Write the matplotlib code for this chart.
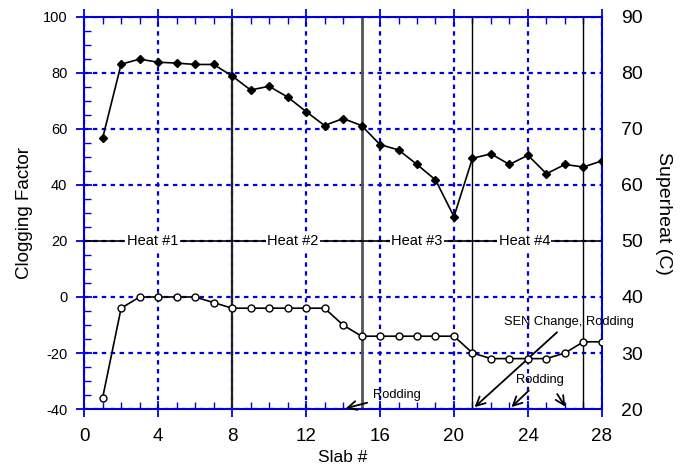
import matplotlib.pyplot as plt
from matplotlib.ticker import MultipleLocator

plt.rcParams['font.family'] = ['Liberation Sans', 'DejaVu Sans']
plt.rcParams['axes.unicode_minus'] = False

slab = list(range(1, 29))
clogging = [56.7, 83.1, 84.9, 83.8, 83.5, 83.0, 83.0, 78.9, 73.9, 75.2,
            71.4, 66.2, 61.2, 63.7, 61.2, 54.4, 52.5, 47.3, 41.8, 28.7,
            49.5, 51.1, 47.3, 50.6, 44.0, 47.3, 46.4, 48.6]
superheat = [22, 38, 40, 40, 40, 40, 39, 38, 38, 38,
             38, 38, 38, 35, 33, 33, 33, 33, 33, 33,
             30, 29, 29, 29, 29, 30, 32, 32]

heat_breaks = [8, 15, 21, 27]
heat_labels = ["Heat #1", "Heat #2", "Heat #3", "Heat #4"]
heat_label_x = [3.7, 11.3, 18.0, 23.8]

blue = "#0000dd"

fig = plt.figure(figsize=(6.84, 4.68), dpi=100)
ax = fig.add_axes([0.123, 0.126, 0.757, 0.838])

ax.set_xlim(0, 28)
ax.set_ylim(-40, 100)
ax.xaxis.set_major_locator(MultipleLocator(4))
ax.xaxis.set_minor_locator(MultipleLocator(1))
ax.yaxis.set_major_locator(MultipleLocator(20))
ax.yaxis.set_minor_locator(MultipleLocator(5))
ax.grid(True, which='major', color=blue, linestyle=(0, (2, 2)), linewidth=1.6)

for s in ax.spines.values():
    s.set_color(blue)
    s.set_linewidth(1.5)
ax.tick_params(which='major', direction='inout', length=12, width=1.3, color=blue,
               top=True, right=False)
ax.tick_params(which='minor', direction='in', length=5, width=1, color=blue,
               top=True, right=False)
ax.tick_params(axis='x', labelsize=13.5, pad=8)
ax.tick_params(axis='y', labelsize=10.5, pad=6)

# heat separators
for x, c, w in zip(heat_breaks, ["#222222", "#555555", "black", "black"], [1.6, 2, 1, 1]):
    ax.axvline(x, color=c, linewidth=w, zorder=2)

ax.axhline(20, color="black", linewidth=1.2, zorder=2)
for lbl, x in zip(heat_labels, heat_label_x):
    ax.text(x, 20, lbl, ha='center', va='center', fontsize=10.5,
            bbox=dict(facecolor='white', edgecolor='none', pad=1), zorder=3)

ax.plot(slab, clogging, color='black', linewidth=1.2, marker='D', markersize=4.5,
        markerfacecolor='black', zorder=4)

ax2 = ax.twinx()
ax2.set_ylim(20, 90)
ax2.yaxis.set_major_locator(MultipleLocator(10))
ax2.tick_params(axis='y', length=0, labelsize=14, pad=14)
for s in ax2.spines.values():
    s.set_visible(False)
ax2.plot(slab, superheat, color='black', linewidth=1.2, marker='o', markersize=5,
         markerfacecolor='white', markeredgewidth=1, zorder=4)

ax.set_xlabel("Slab #", fontsize=12.5, labelpad=3)
ax.set_ylabel("Clogging Factor", fontsize=13.5, labelpad=7)
ax2.set_ylabel("Superheat (C)", fontsize=14, rotation=-90, labelpad=21)

arrow = dict(arrowstyle='->', color='black', linewidth=1.3, mutation_scale=16)
ax.annotate("Rodding", xy=(14, -40), xytext=(15.6, -35), fontsize=9.3,
            va='center', arrowprops=arrow)
ax.annotate("SEN Change, Rodding", xy=(21, -40), xytext=(22.7, -8.8), fontsize=9.3,
            va='center', arrowprops=arrow)
ax.annotate("Rodding", xy=(23, -40), xytext=(24.65, -29.6), fontsize=9.3,
            ha='center', va='center', arrowprops=arrow)
ax.annotate("", xy=(26.1, -40), xytext=(25.5, -33.8), arrowprops=arrow)

fig.savefig("out.png", dpi=100)
